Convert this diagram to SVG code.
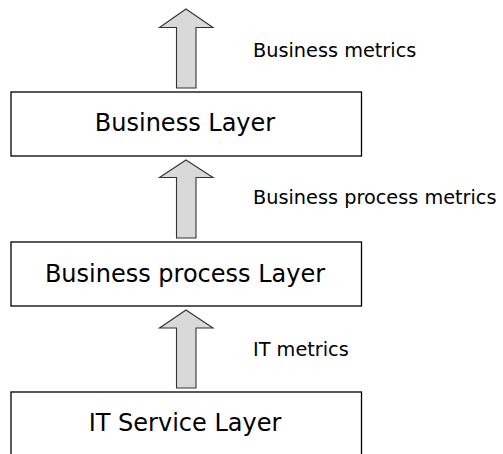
<svg xmlns="http://www.w3.org/2000/svg" width="503" height="454" viewBox="0 0 503 454">
<style>
.box{fill:#fff;stroke:#000;stroke-width:1.3}
.arr{fill:#d9d9d9;stroke:#333;stroke-width:1.1;stroke-linejoin:miter}
.lbl{font-family:"DejaVu Sans",sans-serif;font-size:24px;fill:#000;text-anchor:middle}
.met{font-family:"DejaVu Sans",sans-serif;font-size:19.3px;fill:#000}
</style>
<rect width="503" height="454" fill="#fff"/>
<g id="connectors">
<path class="arr" d="M186,9 L213,27.5 L196,27.5 L196,88 L176.5,88 L176.5,27.5 L159.5,27.5 Z"/>
<path class="arr" d="M186,160 L213,177.5 L196,177.5 L196,238 L176.5,238 L176.5,177.5 L159.5,177.5 Z"/>
<path class="arr" d="M186,310 L213,328 L196,328 L196,388 L176.5,388 L176.5,328 L159.5,328 Z"/>
<text class="met" x="253" y="56.5">Business metrics</text>
<text class="met" x="253" y="203.5">Business process metrics</text>
<text class="met" x="253" y="356">IT metrics</text>
</g>
<g id="business-layer">
<rect class="box" x="11" y="92" width="350.5" height="64"/>
<text class="lbl" x="185" y="131">Business Layer</text>
</g>
<g id="business-process-layer">
<rect class="box" x="11" y="242" width="350.5" height="64"/>
<text class="lbl" x="185" y="282">Business process Layer</text>
</g>
<g id="it-service-layer">
<rect class="box" x="11" y="392" width="350.5" height="70"/>
<text class="lbl" x="185" y="431">IT Service Layer</text>
</g>
</svg>
